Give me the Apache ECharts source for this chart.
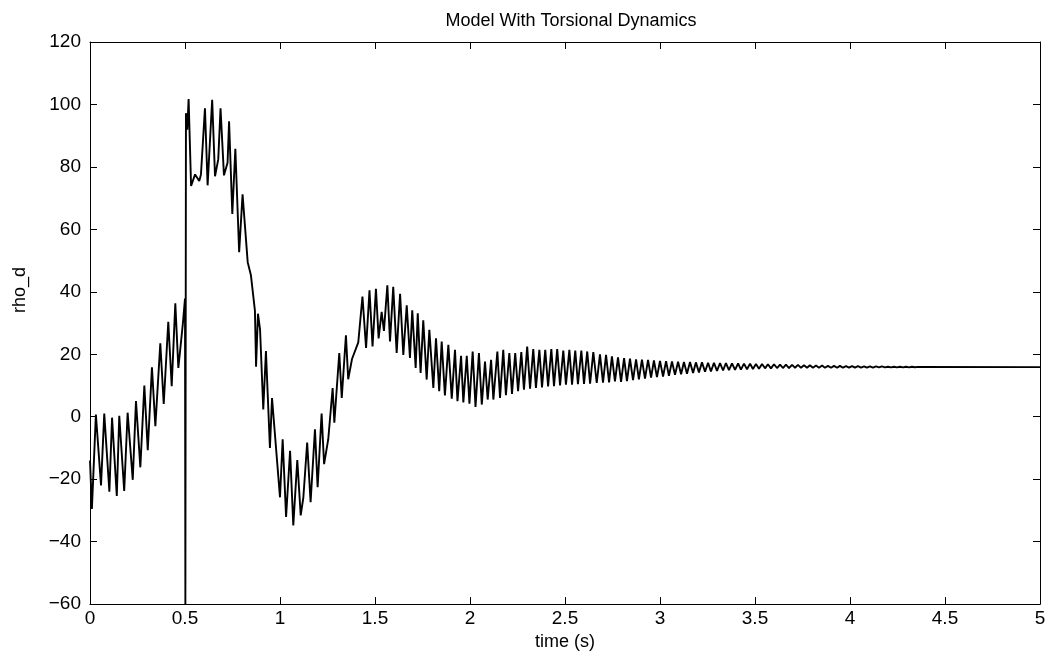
<!DOCTYPE html>
<html>
<head>
<meta charset="utf-8">
<script src="https://cdn.jsdelivr.net/npm/echarts@6/dist/echarts.min.js"></script>
<style>
html,body{margin:0;padding:0;background:#fff;}
#chart{width:1050px;height:656px;}
</style>
</head>
<body>
<div id="chart"></div>
<script>
const titleText = "Model With Torsional Dynamics";
const xLabel = "time (s)";
const yLabel = "rho_d";
const xTicks = [0, 0.5, 1, 1.5, 2, 2.5, 3, 3.5, 4, 4.5, 5];
const yTicks = [-60, -40, -20, 0, 20, 40, 60, 80, 100, 120];

// transient part
const timeA = [0.000,0.004,0.010,0.031,0.058,0.075,0.102,0.116,0.141,0.154,0.180,0.198,0.225,0.242,0.265,0.286,0.304,0.326,0.344,0.370,0.388,0.412,0.430,0.449,0.465,0.489,0.500,0.502,0.505,0.512,0.519,0.532,0.553,0.575,0.584,0.605,0.619,0.643,0.658,0.675,0.687,0.705,0.724,0.732,0.749,0.765,0.785,0.803,0.830,0.847,0.868,0.874,0.884,0.895,0.912,0.926,0.947,0.958];
const rhoA  = [-14,-14,-29.5,0.7,-22,1,-24,-0.3,-25.4,0.3,-23.8,1.3,-20.2,5,-16.2,10,-10.7,15.8,-3,23.5,4.1,30.4,9.8,36.3,15.6,30,37.8,-60,97.2,91.9,101.7,73.9,77.6,75.5,77.6,98.8,74.1,101.5,77,82.4,98.8,77.3,81.3,94.6,64.9,85.8,52.7,71.2,49.5,45.3,34,16,33,28,2.3,21,-10,6];

const timeB = [1.000,1.014,1.032,1.053,1.070,1.091,1.109,1.123,1.143,1.161,1.184,1.198,1.219,1.232,1.254,1.277,1.286,1.312,1.325,1.347,1.359,1.379,1.412,1.434,1.453,1.471,1.487,1.505,1.519,1.535,1.547,1.565,1.579,1.596,1.614,1.632,1.649,1.667,1.684,1.696,1.714,1.725,1.740,1.754,1.772,1.786,1.807,1.821,1.838,1.851,1.868,1.886,1.904,1.921,1.934,1.953,1.965,1.983,1.997];
const rhoB  = [-25.8,-7.2,-32.1,-10.9,-34.8,-13.9,-31.6,-25.8,-8.3,-27.4,-4,-22.6,1,-15.2,-7.2,9.2,-1.9,20.4,6,26.1,12,18.5,23.8,38.5,22,40.5,22.5,41,25.1,33.6,27.5,42.1,24.1,41.6,20.4,39.4,19.8,35.7,18.8,34.1,15.6,33.1,14,30.9,11.9,27.8,9.2,25.1,8.2,24.1,6.8,23,5.8,21.4,5,19.5,4.6,19.5,4.2];

const timeC = [2.014,2.029,2.047,2.062,2.079,2.093,2.111,2.123,2.144,2.158,2.175,2.189,2.207,2.221,2.238,2.253,2.270,2.284,2.301,2.316,2.333,2.347,2.365,2.379,2.396,2.411,2.428,2.442,2.459,2.474,2.491,2.505,2.523,2.537,2.554,2.568,2.586,2.600,2.617,2.632,2.649,2.667,2.684,2.700,2.716,2.732,2.747,2.763];
const rhoC  = [20.9,3.1,20.4,3.9,17.7,5.5,18.2,5.5,20.9,6,21.4,6.9,20.4,7.3,20.4,8.2,20.7,8.7,22.5,9,21.7,9.2,21.4,9.4,21.4,9.7,21.7,9.8,21.7,10,21.2,10.3,21.4,10.3,21.2,10.4,21.2,10.5,20.9,10.6,20.7,10.8,20,10.9,19.8,11,19.3,11.3];

const timeD = [2.779,2.795,2.811,2.826,2.842,2.858,2.874,2.889,2.905,2.921,2.937,2.953,2.968,2.984,3.000,3.016,3.032,3.047,3.063,3.079,3.095,3.111,3.126,3.142,3.158,3.174,3.189,3.205,3.221,3.237,3.253,3.268,3.284,3.300,3.316,3.332,3.347,3.363,3.379,3.395,3.411,3.426,3.442,3.458,3.474,3.489,3.505,3.521,3.537,3.553,3.568,3.584,3.600,3.616,3.632,3.647,3.663,3.679,3.695,3.711,3.726,3.742,3.758,3.774,3.789,3.805,3.821,3.837,3.853,3.868,3.884,3.900,3.916,3.932,3.947,3.963,3.979,3.995,4.011,4.026,4.042,4.058,4.074,4.089,4.105,4.121,4.137,4.153,4.168,4.184,4.200,4.216,4.232,4.247,4.263,4.279,4.295,4.311,4.326,4.342,4.358,5.000];
const rhoD  = [19.0,11.2,18.8,11.4,18.6,11.7,18.4,12.0,18.3,12.2,18.2,12.5,18.0,12.7,17.9,12.9,17.8,13.1,17.7,13.4,17.6,13.6,17.5,13.8,17.5,14.0,17.4,14.2,17.4,14.4,17.3,14.5,17.3,14.7,17.2,14.8,17.2,14.9,17.1,15.0,17.1,15.1,17.0,15.2,17.0,15.3,16.9,15.4,16.9,15.5,16.8,15.5,16.8,15.6,16.7,15.6,16.7,15.6,16.6,15.7,16.6,15.7,16.5,15.7,16.5,15.7,16.4,15.7,16.4,15.7,16.3,15.7,16.3,15.7,16.3,15.7,16.2,15.7,16.2,15.7,16.2,15.7,16.1,15.7,16.1,15.7,16.1,15.8,16.1,15.8,16.0,15.8,16.0,15.8,16.0,15.8,16.0,15.8,16.0,15.85,15.95,15.9];

const time = timeA.concat(timeB, timeC, timeD);
const rho = rhoA.concat(rhoB, rhoC, rhoD);
const points = time.map((t, i) => [t, rho[i]]);

const FONT = "'Liberation Sans', Arial, Helvetica, sans-serif";
const fmt = v => String(v).replace('-', '\u2212');

const chart = echarts.init(document.getElementById('chart'), null, {renderer: 'canvas'});
const axisCommon = {
  axisLine: {show: true, onZero: false, lineStyle: {color: '#000', width: 1}},
  axisTick: {show: true, inside: true, length: 7, lineStyle: {color: '#000', width: 1}},
  splitLine: {show: false}
};
chart.setOption({
  animation: false,
  backgroundColor: '#fff',
  title: {
    text: titleText, left: 566, top: 7, textAlign: 'center',
    textStyle: {fontFamily: FONT, fontSize: 18, fontWeight: 'normal', color: '#000'}
  },
  grid: {left: 90, right: 10, top: 42, bottom: 48, containLabel: false},
  xAxis: [
    Object.assign({type: 'value', position: 'bottom', min: 0, max: 5, interval: 0.5,
      axisLabel: {show: true, color: '#000', fontFamily: FONT, fontSize: 19, margin: 5, formatter: fmt},
      name: xLabel, nameLocation: 'middle', nameGap: 27,
      nameTextStyle: {fontFamily: FONT, fontSize: 18, color: '#000'}}, axisCommon),
    Object.assign({type: 'value', position: 'top', min: 0, max: 5, interval: 0.5,
      axisLabel: {show: false}}, axisCommon)
  ],
  yAxis: [
    Object.assign({type: 'value', position: 'left', min: -60, max: 120, interval: 20,
      axisLabel: {show: true, color: '#000', fontFamily: FONT, fontSize: 19, margin: 9, formatter: fmt}}, axisCommon),
    Object.assign({type: 'value', position: 'right', min: -60, max: 120, interval: 20,
      axisLabel: {show: false}}, axisCommon)
  ],
  graphic: [{
    type: 'text', x: 20, y: 290, rotation: Math.PI / 2,
    style: {text: yLabel, fill: '#000', font: "18px 'Liberation Sans', Arial, sans-serif", align: 'center', verticalAlign: 'middle'}
  }],
  series: [{
    type: 'line', xAxisIndex: 0, yAxisIndex: 0, data: points,
    showSymbol: false, symbol: 'none', clip: true,
    lineStyle: {color: '#000', width: 1.9}
  }]
});
</script>
</body>
</html>
